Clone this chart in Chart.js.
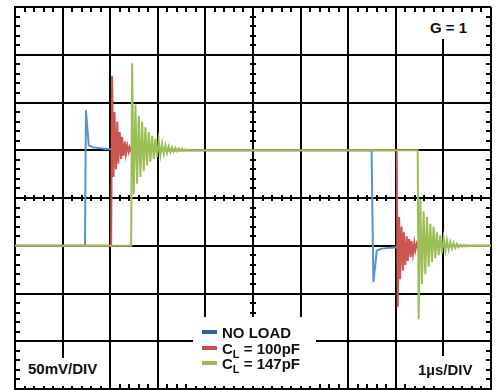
<!DOCTYPE html>
<html>
<head>
<meta charset="utf-8">
<script src="https://cdn.jsdelivr.net/npm/chart.js@4.4.0/dist/chart.umd.min.js"></script>
<style>
    body { margin: 0; background: #fff; }
    #wrap { position: relative; width: 500px; height: 390px; }
    .lbl {
        position: absolute;
        background: #fff;
        font: bold 15px "Liberation Sans", Arial, sans-serif;
        line-height: 16px;
        color: #111;
        white-space: nowrap;
    }
    .legend .row { position: absolute; left: 9px; height: 16px; }
    .legend .sw { position: absolute; left: 0; top: 5px; width: 15px; height: 4px; }
    .legend .tx { position: absolute; left: 20px; top: 0; }
    .legend sub { font-size: 11px; vertical-align: -4px; line-height: 0; }
</style>
</head>
<body>
<div id="wrap">
    <canvas id="scope" width="500" height="390"></canvas>
    <div class="lbl" style="left:424px;top:12px;width:60px;height:27px;">
        <span style="position:absolute;left:6px;top:8px;">G = 1</span>
    </div>
    <div class="lbl" style="left:21px;top:358px;width:86px;height:28px;">
        <span style="position:absolute;left:7px;top:3px;">50mV/DIV</span>
    </div>
    <div class="lbl" style="left:408px;top:356px;width:77px;height:30px;">
        <span style="position:absolute;left:10px;top:6px;">1µs/DIV</span>
    </div>
    <div class="lbl legend" style="left:193px;top:317px;width:123px;height:69px;">
        <div class="row" style="top:8px;"><div class="sw" style="background:#2f5fa6"></div><div class="tx">NO LOAD</div></div>
        <div class="row" style="top:24px;"><div class="sw" style="background:#c8504b"></div><div class="tx">C<sub>L</sub> = 100pF</div></div>
        <div class="row" style="top:39px;"><div class="sw" style="background:#9bbb59"></div><div class="tx">C<sub>L</sub> = 147pF</div></div>
    </div>
</div>
<script>
// Time in µs (1µs/DIV), voltage in mV (50mV/DIV)
const blueX = [0, 1.47, 1.49, 1.55, 1.65, 1.8, 2.0, 2.3, 7.49, 7.53, 7.6, 7.7, 7.9, 8.2, 10];
const blueY = [-50, -50, 92, 55, 53, 52, 51, 50, 50, -88, -55, -53, -52, -51, -50];

const redX = [0, 2.02, 2.04,
    2.07, 2.09, 2.12, 2.15, 2.17, 2.20, 2.23, 2.25, 2.28, 2.31, 2.33, 2.36, 2.39, 2.41, 2.44, 2.46,
    2.52, 8.02, 8.04,
    8.07, 8.09, 8.12, 8.15, 8.17, 8.20, 8.23, 8.25, 8.28, 8.31, 8.33, 8.36, 8.39, 8.41, 8.44,
    8.47, 8.52, 10];
const redY = [-50, -50, 128,
    22, 90, 30, 80, 36, 69, 41, 64, 44, 59, 46, 55, 48, 53, 49, 51,
    50, 50, -114,
    -20, -85, -30, -76, -36, -70, -40, -66, -43, -62, -45, -59, -47, -55, -48,
    -53, -50, -50];

const greenX = [0, 2.44, 2.46,
    2.495, 2.53, 2.565, 2.60, 2.635, 2.67, 2.705, 2.74, 2.775, 2.81, 2.845, 2.88, 2.915, 2.95, 2.985,
    3.02, 3.055, 3.09, 3.125, 3.16, 3.195, 3.23, 3.265, 3.30, 3.335, 3.37, 3.405, 3.44, 3.475, 3.51,
    3.545, 3.58, 3.615, 3.65, 3.70,
    8.46, 8.48,
    8.515, 8.55, 8.585, 8.62, 8.655, 8.69, 8.725, 8.76, 8.795, 8.83, 8.865, 8.90, 8.935, 8.97, 9.005,
    9.04, 9.075, 9.11, 9.145, 9.18, 9.215, 9.25, 9.285, 9.32, 9.355, 9.39, 9.425, 9.46, 9.495, 9.53,
    9.6, 10];
const greenY = [-50, -50, 141,
    4, 98, 15, 86, 22, 80, 28, 74, 34, 69, 38, 65, 41, 62, 43,
    60, 45, 57, 46, 55, 47, 54, 48, 53, 48.5, 52.5, 49, 52, 49.5, 51.5,
    49.5, 51, 50, 50.5, 50,
    50, -127,
    -1, -90, -14, -80, -20, -72, -27, -67, -30, -63, -36, -60, -39, -58, -42,
    -55, -44, -54, -46, -53, -47, -52, -48, -51.5, -49, -51, -49.5, -50.5, -49.5, -50.5,
    -50, -50];

function toPoints(xs, ys) {
    return xs.map((x, i) => ({ x: x, y: ys[i] }));
}

// Minor division ticks on the border and on the centre axes
const scopeTicks = {
    id: 'scopeTicks',
    beforeDatasetsDraw(chart) {
        const { ctx, chartArea: a, scales: { x, y } } = chart;
        const cx = Math.round(x.getPixelForValue(5));
        const cy = Math.round(y.getPixelForValue(0));
        ctx.save();
        ctx.strokeStyle = '#000';
        ctx.lineWidth = 2;
        ctx.beginPath();
        for (let i = 1; i < 50; i++) {
            if (i % 5 === 0) continue;
            const px = Math.round(x.getPixelForValue(i / 5));
            ctx.moveTo(px, a.top); ctx.lineTo(px, a.top + 5);
            ctx.moveTo(px, a.bottom); ctx.lineTo(px, a.bottom - 5);
            ctx.moveTo(px, cy - 3); ctx.lineTo(px, cy + 3);
        }
        for (let i = 1; i < 40; i++) {
            if (i % 5 === 0) continue;
            const py = Math.round(y.getPixelForValue(-200 + i * 10));
            ctx.moveTo(a.left, py); ctx.lineTo(a.left + 5, py);
            ctx.moveTo(a.right, py); ctx.lineTo(a.right - 5, py);
            ctx.moveTo(cx - 3, py); ctx.lineTo(cx + 3, py);
        }
        ctx.stroke();
        ctx.restore();
    }
};

const ctx = document.getElementById('scope').getContext('2d');
new Chart(ctx, {
    type: 'line',
    data: {
        datasets: [
            {
                label: 'NO LOAD',
                data: toPoints(blueX, blueY),
                borderColor: 'rgb(90, 145, 210)',
                borderWidth: 2,
                order: 3
            },
            {
                label: 'CL = 100pF',
                data: toPoints(redX, redY),
                borderColor: 'rgb(205, 85, 80)',
                borderWidth: 2,
                order: 2
            },
            {
                label: 'CL = 147pF',
                data: toPoints(greenX, greenY),
                borderColor: 'rgb(155, 190, 85)',
                borderWidth: 2,
                order: 1
            }
        ]
    },
    options: {
        responsive: false,
        animation: false,
        events: [],
        elements: {
            point: { radius: 0 },
            line: { tension: 0 }
        },
        layout: {
            padding: { left: 15, right: 9, top: 7, bottom: 1 }
        },
        plugins: {
            legend: { display: false },
            tooltip: { enabled: false }
        },
        scales: {
            x: {
                type: 'linear',
                min: 0,
                max: 10,
                ticks: { stepSize: 1, display: false },
                grid: { color: '#000', lineWidth: 2, drawTicks: false },
                border: { display: true, color: '#000', width: 2 }
            },
            y: {
                type: 'linear',
                min: -200,
                max: 200,
                ticks: { stepSize: 50, display: false },
                grid: { color: '#000', lineWidth: 2, drawTicks: false },
                border: { display: true, color: '#000', width: 2 }
            }
        }
    },
    plugins: [scopeTicks]
});
</script>
</body>
</html>
